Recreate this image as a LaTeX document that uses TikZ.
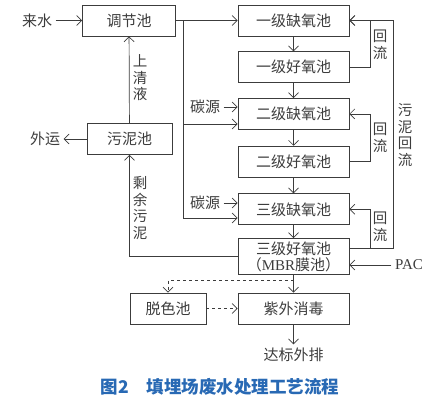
\documentclass[tikz,border=0pt]{standalone}
\usepackage{fontspec}
\setmainfont{Noto Sans CJK SC}
\newfontfamily\latinfont{Liberation Serif}
\usetikzlibrary{arrows.meta,positioning}

\definecolor{linegray}{RGB}{60,60,60}
\definecolor{capblue}{RGB}{40,105,180}

\begin{document}
\begin{tikzpicture}[
    x=1pt,y=-1pt,
    >={Straight Barb[length=5pt,width=10pt]},
    line width=0.7pt,linegray,
    every node/.style={text=linegray,font=\fontsize{15}{17}\selectfont},
    pool/.style={draw,minimum width=111pt,minimum height=31pt,inner sep=0pt},
    vlabel/.style={align=center,inner sep=0pt,font=\fontsize{14.5}{16.5}\selectfont},
    node distance=15pt
  ]
    \useasboundingbox (0,0) rectangle (447,401);

    % left part
    \node (feed)  at (37,20.5)   {来水};
    \node [pool,minimum width=93pt] (tiaojie) at (129,20.5) {调节池};
    \node [pool,minimum width=85pt] (wuni)    at (129.5,139) {污泥池};
    \node (waiyun) at (45,139)   {外运};

    % main line of tanks
    \node [pool] (anox1) at (293.5,20.5) {一级缺氧池};
    \node [pool,below=of anox1] (oxic1) {一级好氧池};
    \node [pool,below=of oxic1] (anox2) {二级缺氧池};
    \node [pool,below=16pt of anox2] (oxic2) {二级好氧池};
    \node [pool,below=16pt of oxic2] (anox3) {三级缺氧池};
    \node [pool,minimum height=36pt,below=13pt of anox3,align=center,
           font=\fontsize{15}{16}\selectfont] (oxic3)
          {三级好氧池\\（{\latinfont MBR}膜池）};
    \node [pool] (uv) at (293.5,308.5) {紫外消毒};
    \node [pool,minimum width=76pt] (tuose) at (168,308.5) {脱色池};
    \node (effluent) at (293.5,355) {达标外排};
    \node (pac)    at (409,265)  {\latinfont PAC};
    \node (carbon2) at (205,107) {碳源};
    \node (carbon3) at (205,203) {碳源};

    % helper coordinates
    \coordinate (split0) at (183,20.5);
    \coordinate (split2) at (183,124);
    \coordinate (split3) at (183,218);
    \coordinate (ret)    at (370,0);
    \coordinate (sludge) at (393,0);
    \coordinate (dashj)  at (293.5,280);

    % influent
    \draw [->] (feed) -- (tiaojie);
    \draw [->] (tiaojie) -- (anox1);
    \draw (split0) -- (split3);
    \draw [->] (split2) -- (split2 -| anox2.west);
    \draw [->] (split3) -- (split3 -| anox3.west);
    \draw [->] (carbon2) -- (carbon2 -| anox2.west);
    \draw [->] (carbon3) -- (carbon3 -| anox3.west);

    % down the tanks
    \draw [->] (anox1) -- (oxic1);
    \draw [->] (oxic1) -- (anox2);
    \draw [->] (anox2) -- (oxic2);
    \draw [->] (oxic2) -- (anox3);
    \draw [->] (anox3) -- (oxic3);
    \draw [->] (oxic3) -- (uv);
    \draw [->] (uv) -- (effluent);

    % recycle loops
    \draw [->] (oxic1.east) -| (ret |- anox1.east) -- (anox1.east);
    \draw [->] (oxic2.east) -| (ret |- anox2.east) -- (anox2.east);
    \draw [->] ([yshift=8pt]oxic3.east) -| (ret |- anox3.east) -- (anox3.east);
    \draw [->] ([yshift=8pt]oxic3.east) -| (sludge |- anox1.east) -- (anox1.east);
    \draw [->] (pac) -- (pac -| oxic3.east);

    % sludge
    \draw [->] (oxic3.west) -| (wuni.south);
    \draw [->] (wuni) -- (tiaojie);
    \draw [->] (wuni) -- (waiyun);

    % decolouring (dashed)
    \draw [dashed,->] (dashj) -| (tuose.north);
    \draw [dashed,->] (tuose) -- (uv);

    % labels
    \node [vlabel] at (140,78)  {上\\清\\液};
    \node [vlabel] at (140,208) {剩\\余\\污\\泥};
    \node [vlabel] at (380,45)  {回\\流};
    \node [vlabel] at (380,138) {回\\流};
    \node [vlabel] at (380,227) {回\\流};
    \node [vlabel] at (405,135) {污\\泥\\回\\流};

    \node [text=capblue,font=\fontsize{17.5}{19}\selectfont\bfseries] (caption) at (220,387)
          {图2\hspace{1em}填埋场废水处理工艺流程};
\end{tikzpicture}
\end{document}
